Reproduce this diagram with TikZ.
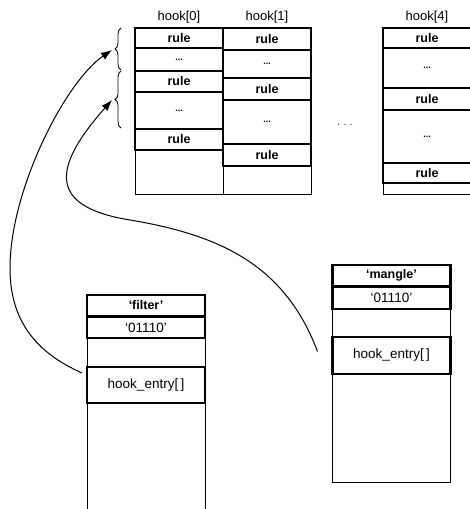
\documentclass[tikz,border=0pt]{standalone}
\usepackage{fontspec}
\setmainfont{Liberation Sans}
\usepackage{tikz}
\usetikzlibrary{arrows.meta, decorations.pathreplacing}

\begin{document}
\begin{tikzpicture}[
    x=1pt, y=-1pt,
    cell/.style={draw, line width=2.4pt, inner sep=0pt, outer sep=0pt, minimum width=88pt},
    boxWidth/.style={minimum width=118pt},
    ruleText/.style={font=\bfseries\fontsize{12.5}{13}\selectfont},
    dotsText/.style={font=\bfseries\fontsize{9}{9}\selectfont},
    hookLabel/.style={font=\fontsize{13}{14}\selectfont},
    entryText/.style={font=\fontsize{13.5}{14}\selectfont},
    outline/.style={line width=0.8pt},
    every node/.style={
        text centered,
        }
        ]
    \useasboundingbox (0,0) rectangle (469,509);

    % hook[0]
    \node[cell, ruleText, anchor=north, minimum height=20pt] (h0a) at (179, 28) {rule};
    \node[cell, dotsText, anchor=north, minimum height=23pt] (h0b) at (h0a.south) {...};
    \node[cell, ruleText, anchor=north, minimum height=21pt] (h0c) at (h0b.south) {rule};
    \node[cell, dotsText, anchor=north, minimum height=37pt] (h0d) at (h0c.south) {...};
    \node[cell, ruleText, anchor=north, minimum height=21pt] (h0e) at (h0d.south) {rule};

    % hook[1]
    \node[cell, ruleText, anchor=north, minimum height=22pt] (h1a) at (267, 28) {rule};
    \node[cell, dotsText, anchor=north, minimum height=28pt] (h1b) at (h1a.south) {...};
    \node[cell, ruleText, anchor=north, minimum height=22pt] (h1c) at (h1b.south) {rule};
    \node[cell, dotsText, anchor=north, minimum height=44pt] (h1d) at (h1c.south) {...};
    \node[cell, ruleText, anchor=north, minimum height=22pt] (h1e) at (h1d.south) {rule};

    % hook[4]
    \node[cell, ruleText, anchor=north, minimum height=20pt] (h4a) at (427, 28) {rule};
    \node[cell, dotsText, anchor=north, minimum height=40pt] (h4b) at (h4a.south) {...};
    \node[cell, ruleText, anchor=north, minimum height=22pt] (h4c) at (h4b.south) {rule};
    \node[cell, dotsText, anchor=north, minimum height=53pt] (h4d) at (h4c.south) {...};
    \node[cell, ruleText, anchor=north, minimum height=20pt] (h4e) at (h4d.south) {rule};

    \coordinate (tableBottom) at (0, 194);
    \draw[outline] (h0a.north west) rectangle (h0a.east |- tableBottom);
    \draw[outline] (h1a.north west) rectangle (h1a.east |- tableBottom);
    \draw[outline] (h4a.north west) rectangle (h4a.east |- tableBottom);

    \node[hookLabel, anchor=south, yshift=1pt] (hook0) at (h0a.north) {hook[0]};
    \node[hookLabel, anchor=south, yshift=1pt] (hook1) at (h1a.north) {hook[1]};
    \node[hookLabel, anchor=south, yshift=1pt] (hook4) at (h4a.north) {hook[4]};
    \node (gapDots) at (345, 126) {· · ·};

    % table 'filter'
    \node[cell, boxWidth, ruleText, anchor=north, minimum height=21pt] (filterName) at (146, 295) {‘filter’};
    \node[cell, boxWidth, entryText, anchor=north, minimum height=21pt, yshift=-1pt] (filterFlags) at (filterName.south) {‘01110’};
    \node[cell, boxWidth, entryText, anchor=north, minimum height=36pt, yshift=-29pt] (filterEntry) at (filterFlags.south) {hook\_entry[\,]};
    \coordinate (pageBottom) at (0, 512);
    \draw[outline] (filterName.north west) -- (filterName.west |- pageBottom);
    \draw[outline] (filterName.north east) -- (filterName.east |- pageBottom);

    % table 'mangle'
    \node[cell, boxWidth, ruleText, anchor=north, minimum height=21pt] (mangleName) at (391.5, 265) {‘mangle’};
    \node[cell, boxWidth, entryText, anchor=north, minimum height=22pt, yshift=-1pt] (mangleFlags) at (mangleName.south) {‘01110’};
    \node[cell, boxWidth, entryText, anchor=north, minimum height=37pt, yshift=-28pt] (mangleEntry) at (mangleFlags.south) {hook\_entry[\,]};
    \coordinate (mangleBottom) at (0, 482);
    \draw[outline] (mangleName.north west) rectangle (mangleName.east |- mangleBottom);

    % braces and pointers
    \draw[outline, decorate, decoration={brace, amplitude=6pt}] (121, 70) -- (121, 28);
    \draw[outline, decorate, decoration={brace, amplitude=6pt}] (121, 128) -- (121, 71);
    \coordinate (braceTipA) at (112, 50);
    \coordinate (braceTipB) at (112, 100);
    \coordinate (loopF) at (10, 268);
    \coordinate (bendM) at (130, 220);

    \draw[->, >={Latex[length=11pt, width=8pt]}, line width=1pt] ([xshift=-5pt, yshift=-6pt]filterEntry.north west) .. controls (35, 352) and (10, 320) .. (loopF) .. controls (10, 190) and (65, 82) .. (braceTipA);
    \draw[->, >={Latex[length=11pt, width=8pt]}, line width=1pt] ([xshift=-15pt, yshift=4pt]mangleEntry.west) .. controls (285, 265) and (220, 235) .. (bendM) .. controls (50, 207) and (50, 170) .. (braceTipB);
\end{tikzpicture}
\end{document}
